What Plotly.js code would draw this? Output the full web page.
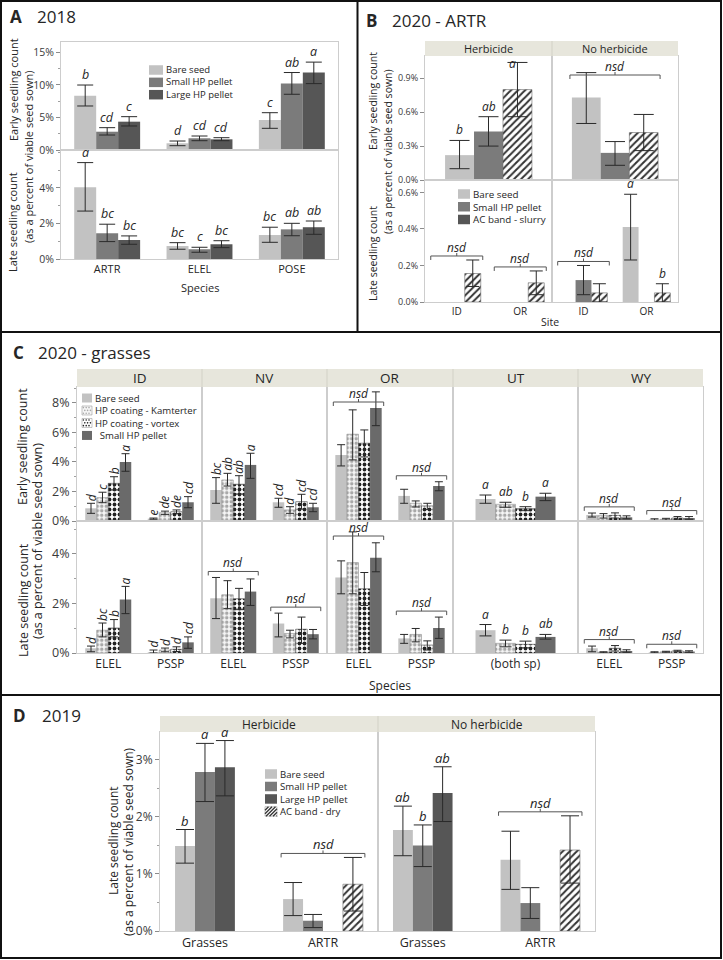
<!DOCTYPE html>
<html><head><meta charset="utf-8">
<script src="https://cdn.plot.ly/plotly-3.0.1.min.js"></script>
<style>html,body{margin:0;padding:0;background:#fff}</style>
</head><body><div id="chart" style="width:723px;height:960px"></div>
<script>
// ================= DATA (values in %, each entry = [mean, lower, upper]; [v] = no error bar) =================
// Panel A — 2018
const aSpecies = ['ARTR', 'ELEL', 'POSE'];
const aEarlyBare  = [[8.34, 6.76, 9.98], [1.03, 0.66, 1.38], [4.61, 3.33, 5.73]];
const aEarlySmall = [[2.81, 2.30, 3.43], [1.80, 1.43, 2.15], [10.2, 8.56, 11.9]];
const aEarlyLarge = [[4.35, 3.69, 5.12], [1.64, 1.43, 1.89], [11.9, 10.2, 13.5]];
const aEarlyLetters = [['b', 'cd', 'c'], ['d', 'cd', 'cd'], ['c', 'ab', 'a']];
const aLateBare  = [[4.04, 2.70, 5.43], [0.73, 0.55, 0.92], [1.35, 0.94, 1.79]];
const aLateSmall = [[1.45, 0.98, 1.96], [0.55, 0.38, 0.66], [1.67, 1.31, 2.01]];
const aLateLarge = [[1.07, 0.83, 1.30], [0.83, 0.64, 1.03], [1.79, 1.39, 2.14]];
const aLateLetters = [['a', 'bc', 'bc'], ['bc', 'c', 'bc'], ['bc', 'ab', 'ab']];
const aLegend = ['Bare seed', 'Small HP pellet', 'Large HP pellet'];
const aEarlyTicks = [0, 5, 10, 15];
const aLateTicks = [0, 2, 4];

// Panel B — 2020 ARTR
const bTreatments = ['Herbicide', 'No herbicide'];
const bEarlyBare  = [[0.22, 0.10, 0.35], [0.73, 0.50, 0.95]];
const bEarlySmall = [[0.43, 0.30, 0.56], [0.24, 0.13, 0.34]];
const bEarlyAC    = [[0.80, 0.56, 1.04], [0.42, 0.26, 0.58]];
const bEarlyLetters = [['b', 'ab', 'a'], 'nsd'];
const bLateTreat = ['Herbicide', 'Herbicide', 'No herbicide', 'No herbicide'];
const bLateSite  = ['ID', 'OR', 'ID', 'OR'];
const bLateBare  = [[0], [0], [0], [0.41, 0.23, 0.59]];
const bLateSmall = [[0], [0], [0.12, 0.04, 0.20], [0]];
const bLateAC    = [[0.156, 0.085, 0.23], [0.105, 0.04, 0.17], [0.05, 0.0, 0.10], [0.05, 0.0, 0.10]];
const bLateLetters = ['nsd', 'nsd', 'nsd', ['a', '', 'b']];
const bLegend = ['Bare seed', 'Small HP pellet', 'AC band - slurry'];
const bEarlyTicks = [0, 0.3, 0.6, 0.9];
const bLateTicks = [0, 0.2, 0.4, 0.6];

// Panel C — 2020 grasses
const cSite    = ['ID', 'ID', 'NV', 'NV', 'OR', 'OR', 'UT', 'WY', 'WY'];
const cSpecies = ['ELEL', 'PSSP', 'ELEL', 'PSSP', 'ELEL', 'PSSP', '(both sp)', 'ELEL', 'PSSP'];
const cEarlyBare   = [[0.86,0.52,1.20],[0.16,0.12,0.20],[2.10,1.20,2.94],[1.27,0.93,1.54],[4.47,3.73,5.17],[1.70,1.20,2.15],[1.49,1.20,1.76],[0.41,0.27,0.54],[0.10,0.05,0.15]];
const cEarlyKamt   = [[1.58,1.24,1.95],[0.56,0.45,0.67],[2.78,2.37,3.23],[0.75,0.52,0.97],[5.88,4.14,7.53],[1.20,0.95,1.36],[1.13,0.93,1.27],[0.36,0.20,0.50],[0.12,0.06,0.18]];
const cEarlyVortex = [[2.55,2.10,3.00],[0.63,0.50,0.75],[2.49,1.83,3.07],[1.31,0.81,1.81],[5.27,4.34,6.17],[1.02,0.77,1.20],[0.84,0.70,0.97],[0.38,0.20,0.55],[0.20,0.12,0.30]];
const cEarlySmall  = [[4.00,3.37,4.56],[1.27,0.90,1.65],[3.80,2.89,4.59],[0.93,0.63,1.20],[7.66,6.46,8.75],[2.37,2.05,2.66],[1.65,1.38,1.88],[0.25,0.15,0.35],[0.20,0.12,0.30]];
const cEarlyLetters = [['d','c','b','a'],['e','de','de','cd'],['bc','ab','ab','a'],['cd','d','cd','cd'],'nsd','nsd',['a','ab','b','a'],'nsd','nsd'];
const cLateBare   = [[0.19,0.05,0.28],[0.03,0.00,0.12],[2.21,1.39,3.05],[1.19,0.65,1.61],[3.05,2.39,3.72],[0.59,0.39,0.75],[0.92,0.69,1.15],[0.19,0.05,0.28],[0.03,0.01,0.05]];
const cLateKamt   = [[0.92,0.65,1.21],[0.12,0.05,0.20],[2.35,1.79,2.92],[0.79,0.61,0.92],[3.65,2.39,4.89],[0.75,0.45,0.99],[0.39,0.25,0.52],[0.03,0.01,0.05],[0.05,0.03,0.07]];
const cLateVortex = [[1.01,0.65,1.35],[0.15,0.06,0.25],[2.19,1.75,2.61],[0.96,0.39,1.45],[2.59,1.92,3.25],[0.32,0.12,0.49],[0.35,0.21,0.48],[0.19,0.08,0.30],[0.08,0.05,0.11]];
const cLateSmall  = [[2.16,1.59,2.69],[0.43,0.19,0.65],[2.48,1.92,2.99],[0.76,0.57,0.95],[3.85,3.28,4.45],[1.01,0.59,1.45],[0.65,0.56,0.75],[0.08,0.03,0.13],[0.06,0.03,0.09]];
const cLateLetters = [['d','bc','b','a'],['d','d','d','cd'],'nsd','nsd','nsd','nsd',['a','b','b','ab'],'nsd','nsd'];
const cLegend = ['Bare seed', 'HP coating - Kamterter', 'HP coating - vortex', 'Small HP pellet'];
const cEarlyTicks = [0, 2, 4, 6, 8];
const cLateTicks = [0, 2, 4];

// Panel D — 2019 (late seedling count)
const dTreatments = ['Herbicide', 'No herbicide'];
const dTreatOf = ['Herbicide', 'Herbicide', 'No herbicide', 'No herbicide'];
const dGroup   = ['Grasses', 'ARTR', 'Grasses', 'ARTR'];
const dBare  = [[1.49,1.19,1.78],[0.56,0.27,0.85],[1.77,1.32,2.19],[1.25,0.73,1.75]];
const dSmall = [[2.79,2.27,3.29],[0.18,0.06,0.29],[1.50,1.13,1.86],[0.49,0.22,0.76]];
const dLarge = [[2.87,2.37,3.34],[0],[2.42,1.92,2.88],[0]];
const dAC    = [null,[0.82,0.35,1.29],null,[1.42,0.84,2.02]];
const dLetters = [['b','a','a'],'nsd',['ab','b','ab'],'nsd'];
const dLegend = ['Bare seed', 'Small HP pellet', 'Large HP pellet', 'AC band - dry'];
const dTicks = [0, 1, 2, 3];

// ================= STYLE / HELPERS =================
const W = 723, H = 960;
const FONT = '"Open Sans", "Noto Sans", "DejaVu Sans", sans-serif';
const TXT = '#262626';
const FRAME = '#cdcdcd';
const ERR = '#2a2a2a';
const STRIP = '#e7e6dc';
const STYLE = {
  bare:   {color: '#c2c2c2'},
  small:  {color: '#7b7b7b'},
  large:  {color: '#565656'},
  smallC: {color: '#6a6a6a'},
  hatch:  {color: '#ffffff', pattern: {shape: '/', fgcolor: '#333333', bgcolor: '#ffffff', size: 5, solidity: 0.4}, line: {color: '#666', width: 0.6}},
  kamt:   {color: '#f3f3f3', pattern: {shape: '.', fgcolor: '#a8a8a8', bgcolor: '#f6f6f6', size: 4.5, solidity: 0.45}, line: {color: '#8a8a8a', width: 0.6}},
  vortex: {color: '#ffffff', pattern: {shape: '.', fgcolor: '#222222', bgcolor: '#ffffff', size: 5, solidity: 0.45}, line: {color: '#444', width: 0.6}}
};

const layout = {
  width: W, height: H, margin: {l: 0, r: 0, t: 0, b: 0},
  paper_bgcolor: '#ffffff', plot_bgcolor: '#ffffff',
  barmode: 'overlay', showlegend: false,
  font: {family: FONT, color: TXT, size: 11},
  shapes: [], annotations: []
};
const traces = [];
const fx = p => p / W, fy = p => 1 - p / H;
let axN = 0;

function makeAxes(o) {
  axN++;
  const s = axN === 1 ? '' : String(axN);
  layout['xaxis' + s] = {
    domain: [fx(o.x0), fx(o.x1)], range: o.xr, anchor: 'y' + s, fixedrange: true,
    showgrid: false, zeroline: false, showline: true, mirror: true, linecolor: FRAME, linewidth: 1,
    ticks: '', tickmode: 'array', tickvals: o.tickvals || [], ticktext: o.ticktext || [],
    showticklabels: !!o.tickvals, tickfont: {size: o.xfont || 11, color: TXT, family: FONT},
    ticklabelstandoff: o.xstand || 0
  };
  const ya = {
    domain: [fy(o.y1), fy(o.y0)], range: o.yr, anchor: 'x' + s, fixedrange: true,
    showgrid: false, zeroline: false, showline: true, mirror: true, linecolor: FRAME, linewidth: 1,
    showticklabels: false, ticks: ''
  };
  if (o.yticks) {
    const dec = o.ydec || 0;
    Object.assign(ya, {
      showticklabels: true, ticks: 'outside', ticklen: 4, tickcolor: '#8c8c8c', tickwidth: 1,
      tickmode: 'array', tickvals: o.yticks, ticktext: o.yticks.map(v => v.toFixed(dec) + '%'),
      tickfont: {size: o.yfont || 11, color: '#3a3a3a', family: FONT}
    });
    if (o.minor) ya.minor = {tickmode: 'linear', tick0: 0, dtick: o.minor, ticks: 'outside', ticklen: 2, tickcolor: '#a0a0a0'};
  }
  layout['yaxis' + s] = ya;
  return Object.assign({xref: 'x' + s, yref: 'y' + s,
    ppy: (o.y1 - o.y0) / (o.yr[1] - o.yr[0]), ppx: (o.x1 - o.x0) / (o.xr[1] - o.xr[0])}, o);
}

function addLetter(ax, bar, txt, opt) {
  let y = bar.top, xshift = 0;
  if (opt.clampTop) {
    const maxY = ax.yr[1] - (opt.lsize + 6) / ax.ppy;
    if (y > maxY) { y = maxY; xshift = -5; }
  }
  layout.annotations.push({xref: ax.xref, yref: ax.yref, x: bar.x, y: y,
    xanchor: 'center', yanchor: 'bottom', yshift: opt.lshift || 0, xshift: xshift, showarrow: false,
    text: '<i>' + txt + '</i>', textangle: opt.rot ? -90 : 0, font: {size: opt.lsize, color: TXT, family: FONT}});
}

function addBracket(ax, bars, opt) {
  const ux = 1 / ax.ppx, uy = 1 / ax.ppy;
  const xl = bars[0].x - opt.w / 2 - 2 * ux, xr = bars[bars.length - 1].x + opt.w / 2 + 2 * ux;
  let yb = Math.max(...bars.map(b => b.top)) + (opt.pad || 5) * uy;
  yb = Math.min(yb, ax.yr[1] - (opt.room || 15) * uy);
  const xc = (xl + xr) / 2;
  layout.shapes.push({type: 'path', xref: ax.xref, yref: ax.yref,
    path: `M${xl},${yb - 4 * uy} L${xl},${yb} L${xr},${yb} L${xr},${yb - 4 * uy} M${xc},${yb} L${xc},${yb + 3 * uy}`,
    line: {color: '#555', width: 1}});
  layout.annotations.push({xref: ax.xref, yref: ax.yref, x: xc, y: yb, xanchor: 'center', yanchor: 'bottom',
    yshift: -2, showarrow: false, text: '<i>nsd</i>', font: {size: opt.lsize, color: TXT, family: FONT}});
}

function drawGroups(ax, series, idxs, letters, opt) {
  const trs = series.map(sr => ({
    type: 'bar', x: [], y: [], width: [], xaxis: ax.xref, yaxis: ax.yref,
    marker: Object.assign({}, sr.style), hoverinfo: 'skip',
    error_y: {type: 'data', symmetric: false, array: [], arrayminus: [], color: ERR, thickness: 1, width: opt.cap}
  }));
  idxs.forEach((di, j) => {
    const present = [];
    series.forEach((sr, k) => { if (sr.vals[di]) present.push(k); });
    const n = present.length;
    const bars = present.map((k, m) => {
      const t = series[k].vals[di];
      const x = j + (m - (n - 1) / 2) * opt.w;
      const tr = trs[k];
      tr.x.push(x); tr.y.push(t[0]); tr.width.push(opt.w);
      const e = t.length === 3;
      tr.error_y.array.push(e ? t[2] - t[0] : NaN);
      tr.error_y.arrayminus.push(e ? t[0] - t[1] : NaN);
      return {x: x, top: e ? t[2] : t[0]};
    });
    const L = letters[di];
    if (L === 'nsd') addBracket(ax, bars, opt);
    else if (Array.isArray(L)) L.forEach((txt, m) => { if (txt) addLetter(ax, bars[m], txt, opt); });
  });
  trs.forEach(t => traces.push(t));
}

function swatch(x, y, w, h, st) {
  const base = st.pattern ? st.pattern.bgcolor : st.color;
  layout.shapes.push({type: 'rect', xref: 'paper', yref: 'paper', x0: fx(x), x1: fx(x + w), y0: fy(y + h), y1: fy(y),
    fillcolor: base, line: {width: st.pattern ? 0.5 : 0, color: '#888'}});
  if (st.pattern && st.pattern.shape === '/') {
    let d = '';
    for (let k = -h; k < w; k += 3.5) {
      let xa = x + k, ya = y + h, xb = x + k + h, yb = y;
      if (xa < x) { ya -= (x - xa); xa = x; }
      if (xb > x + w) { yb += (xb - (x + w)); xb = x + w; }
      d += `M${fx(xa)},${fy(ya)} L${fx(xb)},${fy(yb)} `;
    }
    layout.shapes.push({type: 'path', xref: 'paper', yref: 'paper', path: d, line: {color: st.pattern.fgcolor, width: 1.3}});
  } else if (st.pattern) {
    let row = 0;
    for (let yy = y + 1.6; yy < y + h - 0.5; yy += 2.8, row++) {
      for (let xx = x + 1.4 + (row % 2) * 1.4; xx < x + w - 0.5; xx += 2.8) {
        layout.shapes.push({type: 'circle', xref: 'paper', yref: 'paper', x0: fx(xx - 0.8), x1: fx(xx + 0.8),
          y0: fy(yy + 0.8), y1: fy(yy - 0.8), fillcolor: st.pattern.fgcolor, line: {width: 0}});
      }
    }
  }
}

// legend: swatches as shapes, labels as ONE multi-line annotation (line pitch = 1.3 x font size)
function legendBlock(x, y0, labels, styles, size, sw, sh, indents) {
  const dy = 1.3 * size;
  labels.forEach((lab, i) => swatch(x, y0 + i * dy - sh / 2, sw, sh, styles[i]));
  const txt = labels.map((l, i) => ((indents && indents[i]) ? '\u2002'.repeat(indents[i]) : '') + l).join('<br>');
  layout.annotations.push({xref: 'paper', yref: 'paper', x: fx(x + sw + 1), y: fy(y0 + (labels.length - 1) * dy / 2),
    xanchor: 'left', yanchor: 'middle', align: 'left', showarrow: false, text: txt, font: {size: size, color: TXT, family: FONT}});
}

function text(x, y, t, size, extra) {
  layout.annotations.push(Object.assign({xref: 'paper', yref: 'paper', x: fx(x), y: fy(y), xanchor: 'center', yanchor: 'middle',
    showarrow: false, text: t, font: {size: size, color: TXT, family: FONT}}, extra || {}));
}

function strip(x0, x1, y0, y1, edges, labels, size) {
  layout.shapes.push({type: 'rect', xref: 'paper', yref: 'paper', x0: fx(x0), x1: fx(x1), y0: fy(y1), y1: fy(y0),
    fillcolor: STRIP, line: {width: 0}});
  for (let i = 1; i < edges.length - 1; i++) {
    layout.shapes.push({type: 'line', xref: 'paper', yref: 'paper', x0: fx(edges[i]), x1: fx(edges[i]), y0: fy(y1), y1: fy(y0),
      line: {color: '#d2d1c6', width: 1}});
  }
  labels.forEach((l, i) => text((edges[i] + edges[i + 1]) / 2, (y0 + y1) / 2, l, size));
}

function ytitle(x, y, t, size) { text(x, y, t, size, {textangle: -90}); }

// ================= PANEL A =================
{
  const series = v => [{vals: v[0], style: STYLE.bare}, {vals: v[1], style: STYLE.small}, {vals: v[2], style: STYLE.large}];
  const axE = makeAxes({x0: 61, x1: 338, y0: 42, y1: 150, xr: [-0.5, 2.5], yr: [0, 16.59], yticks: aEarlyTicks, minor: 2.5, yfont: 10.5});
  drawGroups(axE, series([aEarlyBare, aEarlySmall, aEarlyLarge]), [0, 1, 2], aEarlyLetters, {w: 0.238, cap: 8, lsize: 12.5});
  const axL = makeAxes({x0: 61, x1: 338, y0: 150, y1: 259, xr: [-0.5, 2.5], yr: [0, 6.14], yticks: aLateTicks, minor: 1, yfont: 10.5,
    tickvals: [0, 1, 2], ticktext: aSpecies, xfont: 11});
  drawGroups(axL, series([aLateBare, aLateSmall, aLateLarge]), [0, 1, 2], aLateLetters, {w: 0.238, cap: 8, lsize: 12.5});
  legendBlock(149, 70, aLegend, [STYLE.bare, STYLE.small, STYLE.large], 9.5, 14, 9.5);
  ytitle(13, 90, 'Early seedling count', 11);
  ytitle(28, 157, '(as a percent of viable seed sown)', 11);
  ytitle(13, 222, 'Late seedling count', 11);
  text(200, 287, 'Species', 11);
  text(8, 17, '<b>A</b>', 17, {xanchor: 'left'});
  text(35, 17, '2018', 17, {xanchor: 'left'});
}

// ================= PANEL B =================
{
  const edges = [425, 552, 678];
  const eSeries = [{vals: bEarlyBare, style: STYLE.bare}, {vals: bEarlySmall, style: STYLE.small}, {vals: bEarlyAC, style: STYLE.hatch}];
  const lSeries = [{vals: bLateBare, style: STYLE.bare}, {vals: bLateSmall, style: STYLE.small}, {vals: bLateAC, style: STYLE.hatch}];
  bTreatments.forEach((t, i) => {
    const first = i === 0;
    const axE = makeAxes({x0: edges[i], x1: edges[i + 1], y0: 56, y1: 180, xr: [-0.5, 0.5], yr: [0, 1.097],
      yticks: first ? bEarlyTicks : null, ydec: 1, yfont: 9});
    drawGroups(axE, eSeries, [i], bEarlyLetters, {w: 0.228, cap: 10, lsize: 12, pad: 3, room: 19, clampTop: true});
    const idxs = bLateTreat.map((tt, k) => tt === t ? k : -1).filter(k => k >= 0);
    const axL = makeAxes({x0: edges[i], x1: edges[i + 1], y0: 180, y1: 302, xr: [-0.5, 1.5], yr: [0, 0.668],
      yticks: first ? bLateTicks : null, ydec: 1, yfont: 9,
      tickvals: idxs.map((_, j) => j), ticktext: idxs.map(k => bLateSite[k]), xfont: 10});
    drawGroups(axL, lSeries, idxs, bLateLetters, {w: 0.252, cap: 6.5, lsize: 12, pad: 4});
  });
  strip(425, 678, 41, 56, edges, bTreatments, 11);
  legendBlock(458, 194, bLegend, [STYLE.bare, STYLE.small, STYLE.large], 9.8, 12, 9.5);
  ytitle(373, 101, 'Early seedling count', 10.5);
  ytitle(388, 152, '(as a percent of viable seed sown)', 10.5);
  ytitle(373, 254, 'Late seedling count', 10.5);
  text(550, 322, 'Site', 10.5);
  text(364, 20, '<b>B</b>', 17, {xanchor: 'left'});
  text(390, 20, '2020 - ARTR', 17, {xanchor: 'left'});
}

// ================= PANEL C =================
{
  const facets = ['ID', 'NV', 'OR', 'UT', 'WY'];
  const edges = [77, 202, 327, 453, 578, 703];
  const eSeries = [{vals: cEarlyBare, style: STYLE.bare}, {vals: cEarlyKamt, style: STYLE.kamt}, {vals: cEarlyVortex, style: STYLE.vortex}, {vals: cEarlySmall, style: STYLE.smallC}];
  const lSeries = [{vals: cLateBare, style: STYLE.bare}, {vals: cLateKamt, style: STYLE.kamt}, {vals: cLateVortex, style: STYLE.vortex}, {vals: cLateSmall, style: STYLE.smallC}];
  facets.forEach((f, i) => {
    const idxs = cSite.map((s, k) => s === f ? k : -1).filter(k => k >= 0);
    const n = idxs.length;
    const first = i === 0;
    const w = n === 1 ? 0.16 : 0.184, cap = n === 1 ? 6 : 4;
    const rot = (f === 'ID' || f === 'NV');
    const axE = makeAxes({x0: edges[i], x1: edges[i + 1], y0: 387, y1: 521, xr: [-0.5, n - 0.5], yr: [0, 9.08],
      yticks: first ? cEarlyTicks : null, minor: 1, yfont: 12.5});
    drawGroups(axE, eSeries, idxs, cEarlyLetters, {w: w, cap: cap, lsize: 12, rot: rot, pad: 6});
    const axL = makeAxes({x0: edges[i], x1: edges[i + 1], y0: 521, y1: 653, xr: [-0.5, n - 0.5], yr: [0, 5.33],
      yticks: first ? cLateTicks : null, minor: 1, yfont: 12.5,
      tickvals: idxs.map((_, j) => j), ticktext: idxs.map(k => cSpecies[k]), xfont: 12});
    drawGroups(axL, lSeries, idxs, cLateLetters, {w: w, cap: cap, lsize: 12, rot: rot, pad: 6});
  });
  strip(77, 703, 369, 387, edges, facets, 13.5);
  legendBlock(82, 398, cLegend, [STYLE.bare, STYLE.kamt, STYLE.vortex, STYLE.smallC], 9.6, 10, 9, [0, 0, 0, 1]);
  ytitle(23, 447, 'Early seedling count', 12.5);
  ytitle(37, 541, '(as a percent of viable seed sown)', 12.5);
  ytitle(23, 600, 'Late seedling count', 12.5);
  text(390, 685, 'Species', 12);
  text(11, 352, '<b>C</b>', 17, {xanchor: 'left'});
  text(36, 352, '2020 - grasses', 17, {xanchor: 'left'});
}

// ================= PANEL D =================
{
  const edges = [160, 378, 595];
  const series = [{vals: dBare, style: STYLE.bare}, {vals: dSmall, style: STYLE.small}, {vals: dLarge, style: STYLE.large}, {vals: dAC, style: STYLE.hatch}];
  dTreatments.forEach((t, i) => {
    const idxs = dTreatOf.map((tt, k) => tt === t ? k : -1).filter(k => k >= 0);
    const ax = makeAxes({x0: edges[i], x1: edges[i + 1], y0: 732, y1: 931, xr: [-0.381, 1.466], yr: [0, 3.49],
      yticks: i === 0 ? dTicks : null, minor: 0.5, yfont: 12,
      tickvals: idxs.map((_, j) => j), ticktext: idxs.map(k => dGroup[k]), xfont: 12.5});
    drawGroups(ax, series, idxs, dLetters, {w: 0.169, cap: 9, lsize: 13, pad: 4, lshift: -2});
  });
  strip(160, 595, 716, 732, edges, dTreatments, 12);
  legendBlock(265, 774, dLegend, [STYLE.bare, STYLE.small, STYLE.large, STYLE.hatch], 9.6, 12, 9.5);
  ytitle(113, 841, 'Late seedling count', 12);
  ytitle(128, 842, '(as a percent of viable seed sown)', 12);
  text(11, 715, '<b>D</b>', 17, {xanchor: 'left'});
  text(40, 715, '2019', 17, {xanchor: 'left'});
}

// ================= PANEL BORDERS =================
const bl = (x0, y0, x1, y1) => layout.shapes.push({type: 'line', xref: 'paper', yref: 'paper', x0: fx(x0), y0: fy(y0), x1: fx(x1), y1: fy(y1), line: {color: '#111', width: 2}});
layout.shapes.push({type: 'rect', xref: 'paper', yref: 'paper', x0: fx(1), x1: fx(721), y0: fy(958), y1: fy(1), line: {color: '#111', width: 2}});
bl(357.5, 1, 357.5, 332);
bl(1, 332, 721, 332);
bl(1, 695, 721, 695);

Plotly.newPlot('chart', traces, layout, {staticPlot: true, displayModeBar: false});
</script>
</body></html>
